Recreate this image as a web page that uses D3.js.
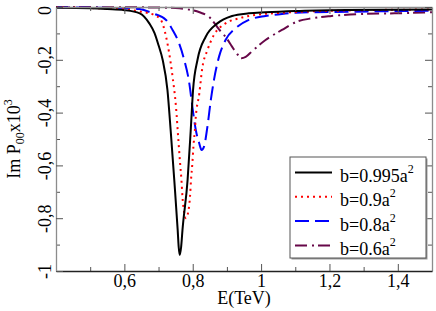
<!DOCTYPE html>
<html>
<head>
<meta charset="utf-8">
<script src="https://cdn.jsdelivr.net/npm/d3@7"></script>
<style>
body { margin: 0; background: #fff; }
svg { display: block; }
</style>
</head>
<body>
<svg id="chart"></svg>
<script>
const margin = {top: 7, right: 4, bottom: 40, left: 56};
const chartWidth = 436;
const chartHeight = 311;
const innerWidth = chartWidth - margin.left - margin.right;
const innerHeight = chartHeight - margin.top - margin.bottom;

const FONT = '"Liberation Serif"';

// tick values
const E_TICKS = [0.6, 0.8, 1.0, 1.2, 1.4];
const E_MINOR = [0.5, 0.7, 0.9, 1.1, 1.3];
const P_TICKS = [0, -0.2, -0.4, -0.6, -0.8, -1];
const P_MINOR = [-0.1, -0.3, -0.5, -0.7, -0.9];

const X_LABEL = "E(TeV)";

// series: energy (TeV) and Im P00 x10^3
const E_B995 = [0.40, 0.50, 0.55, 0.60, 0.645, 0.673, 0.688, 0.70, 0.712, 0.726, 0.736, 0.746, 0.756, 0.759, 0.762, 0.766, 0.770, 0.785, 0.794, 0.801, 0.814, 0.838, 0.872, 0.915, 0.964, 1.013, 1.10, 1.255, 1.50];
const P_B995 = [-0.003, -0.005, -0.008, -0.012, -0.024, -0.062, -0.098, -0.145, -0.20, -0.314, -0.477, -0.655, -0.845, -0.91, -0.939, -0.91, -0.845, -0.655, -0.47, -0.314, -0.20, -0.1125, -0.062, -0.034, -0.024, -0.020, -0.015, -0.011, -0.009];

const E_B9 = [0.40, 0.55, 0.60, 0.645, 0.69, 0.707, 0.722, 0.731, 0.741, 0.751, 0.758, 0.763, 0.767, 0.770, 0.774, 0.780, 0.787, 0.792, 0.795, 0.799, 0.802, 0.806, 0.809, 0.819, 0.828, 0.843, 0.862, 0.896, 0.935, 0.983, 1.061, 1.255, 1.50];
const P_B9 = [-0.002, -0.006, -0.009, -0.017, -0.032, -0.049, -0.1125, -0.174, -0.264, -0.378, -0.504, -0.591, -0.655, -0.719, -0.769, -0.80, -0.775, -0.719, -0.655, -0.591, -0.529, -0.472, -0.416, -0.33, -0.231, -0.163, -0.106, -0.062, -0.043, -0.030, -0.022, -0.013, -0.0095];

const E_B8 = [0.40, 0.528, 0.60, 0.644, 0.683, 0.722, 0.741, 0.760, 0.775, 0.790, 0.799, 0.809, 0.819, 0.826, 0.833, 0.843, 0.853, 0.862, 0.877, 0.896, 0.925, 0.964, 1.013, 1.061, 1.10, 1.255, 1.50];
const P_B8 = [-0.0015, -0.003, -0.005, -0.008, -0.024, -0.049, -0.087, -0.1375, -0.20, -0.289, -0.378, -0.466, -0.516, -0.542, -0.529, -0.453, -0.352, -0.277, -0.188, -0.125, -0.081, -0.049, -0.034, -0.0265, -0.0216, -0.018, -0.014];

const E_B6 = [0.40, 0.60, 0.70, 0.75, 0.79, 0.82, 0.85, 0.877, 0.90, 0.915, 0.93, 0.942, 0.955, 0.974, 1.013, 1.061, 1.104, 1.148, 1.206, 1.293, 1.39, 1.50];
const P_B6 = [0, -0.001, -0.002, -0.004, -0.010, -0.020, -0.040, -0.085, -0.12, -0.15, -0.178, -0.194, -0.189, -0.167, -0.125, -0.087, -0.056, -0.043, -0.034, -0.0265, -0.024, -0.020];

const SERIES_LABELS = ["0.995", "0.9", "0.8", "0.6"];
const SERIES_COLORS = ["#000000", "#ff0000", "#0000ff", "#670748"];
const SERIES_DASHES = [null, "2 4", "14 6", "12 5 2 4"];

const series = [
    {label: SERIES_LABELS[0], color: SERIES_COLORS[0], dash: SERIES_DASHES[0], pts: E_B995.map((e, i) => [e, P_B995[i]])},
    {label: SERIES_LABELS[1], color: SERIES_COLORS[1], dash: SERIES_DASHES[1], pts: E_B9.map((e, i) => [e, P_B9[i]])},
    {label: SERIES_LABELS[2], color: SERIES_COLORS[2], dash: SERIES_DASHES[2], pts: E_B8.map((e, i) => [e, P_B8[i]])},
    {label: SERIES_LABELS[3], color: SERIES_COLORS[3], dash: SERIES_DASHES[3], pts: E_B6.map((e, i) => [e, P_B6[i]])}
];

let xScale = d3.scaleLinear().domain([0.4, 1.5]).range([0, innerWidth]);
let yScale = d3.scaleLinear().domain([-1, 0]).range([innerHeight, 0]);

const fmt = d => String(d).replace(".", ",");

let chartSvg = d3.select("#chart")
    .attr("width", chartWidth)
    .attr("height", chartHeight);
let chartG = chartSvg.append("g")
    .attr("transform", `translate(${margin.left}, ${margin.top})`);

chartG.append("clipPath")
    .attr("id", "plot-clip")
    .append("rect")
    .attr("x", 0).attr("y", -1)
    .attr("width", innerWidth).attr("height", innerHeight + 1);

// curves
let line = d3.line()
    .x(d => xScale(d[0]))
    .y(d => yScale(d[1]))
    .curve(d3.curveMonotoneX);

chartG.append("g")
    .attr("clip-path", "url(#plot-clip)")
    .selectAll("path")
    .data(series.slice().reverse())
    .join("path")
    .attr("fill", "none")
    .attr("stroke", d => d.color)
    .attr("stroke-width", 2)
    .attr("stroke-dasharray", d => d.dash)
    .attr("d", d => line(d.pts));

// axes: minor and major ticks on all four sides, pointing inward
function tickOnly(g) {
    g.select(".domain").remove();
    g.selectAll(".tick text").remove();
    g.selectAll(".tick line").attr("stroke", "#555");
}
function styleAxis(g, domainColor) {
    g.select(".domain").attr("stroke", domainColor).attr("stroke-width", 1.3);
    g.selectAll(".tick line").attr("stroke", "#555");
    g.selectAll(".tick text")
        .style("font-family", FONT)
        .style("font-size", "18px")
        .attr("fill", "#000");
}

chartG.append("g")
    .attr("transform", `translate(0,${innerHeight})`)
    .call(d3.axisBottom(xScale).tickValues(E_MINOR).tickSize(-4))
    .call(tickOnly);
chartG.append("g")
    .call(d3.axisTop(xScale).tickValues(E_MINOR).tickSize(-4))
    .call(tickOnly);
chartG.append("g")
    .call(d3.axisLeft(yScale).tickValues(P_MINOR).tickSize(-4))
    .call(tickOnly);
chartG.append("g")
    .attr("transform", `translate(${innerWidth},0)`)
    .call(d3.axisRight(yScale).tickValues(P_MINOR).tickSize(-4))
    .call(tickOnly);

chartG.append("g")
    .call(d3.axisTop(xScale).tickValues(E_TICKS).tickSize(-7).tickSizeOuter(0))
    .call(g => g.selectAll(".tick text").remove())
    .call(g => styleAxis(g, "#8c8c8c"));
chartG.append("g")
    .attr("transform", `translate(${innerWidth},0)`)
    .call(d3.axisRight(yScale).tickValues(P_TICKS).tickSize(-7).tickSizeOuter(0))
    .call(g => g.selectAll(".tick text").remove())
    .call(g => styleAxis(g, "#8c8c8c"));

chartG.append("g")
    .attr("transform", `translate(0,${innerHeight})`)
    .call(d3.axisBottom(xScale).tickValues(E_TICKS).tickSize(-7).tickSizeOuter(0).tickPadding(3).tickFormat(fmt))
    .call(g => styleAxis(g, "#222"));

chartG.append("g")
    .call(d3.axisLeft(yScale).tickValues(P_TICKS).tickSize(-7).tickSizeOuter(0).tickFormat(fmt))
    .call(g => styleAxis(g, "#8c8c8c"))
    .call(g => g.selectAll(".tick text")
        .attr("x", null)
        .attr("dy", null)
        .attr("text-anchor", "middle")
        .attr("transform", d => `translate(-5,${d === 0 ? 3 : 0}) rotate(-90)`));

// axis labels
chartG.append("text")
    .attr("x", xScale(0.95))
    .attr("y", innerHeight + 33)
    .style("font-family", FONT)
    .style("font-size", "18px")
    .attr("text-anchor", "middle")
    .text(X_LABEL);

let yLabel = chartG.append("text")
    .attr("transform", `translate(-36,${yScale(-0.5)}) rotate(-90)`)
    .style("font-family", FONT)
    .style("font-size", "18px")
    .attr("text-anchor", "middle");
yLabel.append("tspan").text("Im P");
yLabel.append("tspan").style("font-size", "12px").attr("dy", 4).text("00");
yLabel.append("tspan").attr("dy", -4).text("x10");
yLabel.append("tspan").style("font-size", "12px").attr("dy", -8).text("3");

// legend
const legendX = 290 - margin.left;
const legendY = 157 - margin.top;
const legendW = 136;
const legendH = 101;

let legendG = chartG.append("g").attr("class", "legend");
legendG.append("rect")
    .attr("x", legendX + 1.5).attr("y", legendY + 1.5)
    .attr("width", legendW).attr("height", legendH)
    .attr("fill", "#999");
legendG.append("rect")
    .attr("x", legendX).attr("y", legendY)
    .attr("width", legendW).attr("height", legendH)
    .attr("fill", "#fff")
    .attr("stroke", "#555")
    .attr("stroke-width", 1);

let rows = legendG.selectAll(".legend-row")
    .data(series)
    .join("g")
    .attr("class", "legend-row")
    .attr("transform", (d, i) => `translate(${legendX}, ${legendY + 25 + i * 24.3})`);

rows.append("line")
    .attr("x1", 5).attr("x2", 42)
    .attr("y1", -9.5).attr("y2", -9.5)
    .attr("stroke", d => d.color)
    .attr("stroke-width", 2)
    .attr("stroke-dasharray", d => d.dash);

let rowText = rows.append("text")
    .attr("x", 50)
    .style("font-family", FONT)
    .style("font-size", "18px");
rowText.append("tspan").text(d => `b=${d.label}a`);
rowText.append("tspan").style("font-size", "12px").attr("dy", -9).text("2");
</script>
</body>
</html>
